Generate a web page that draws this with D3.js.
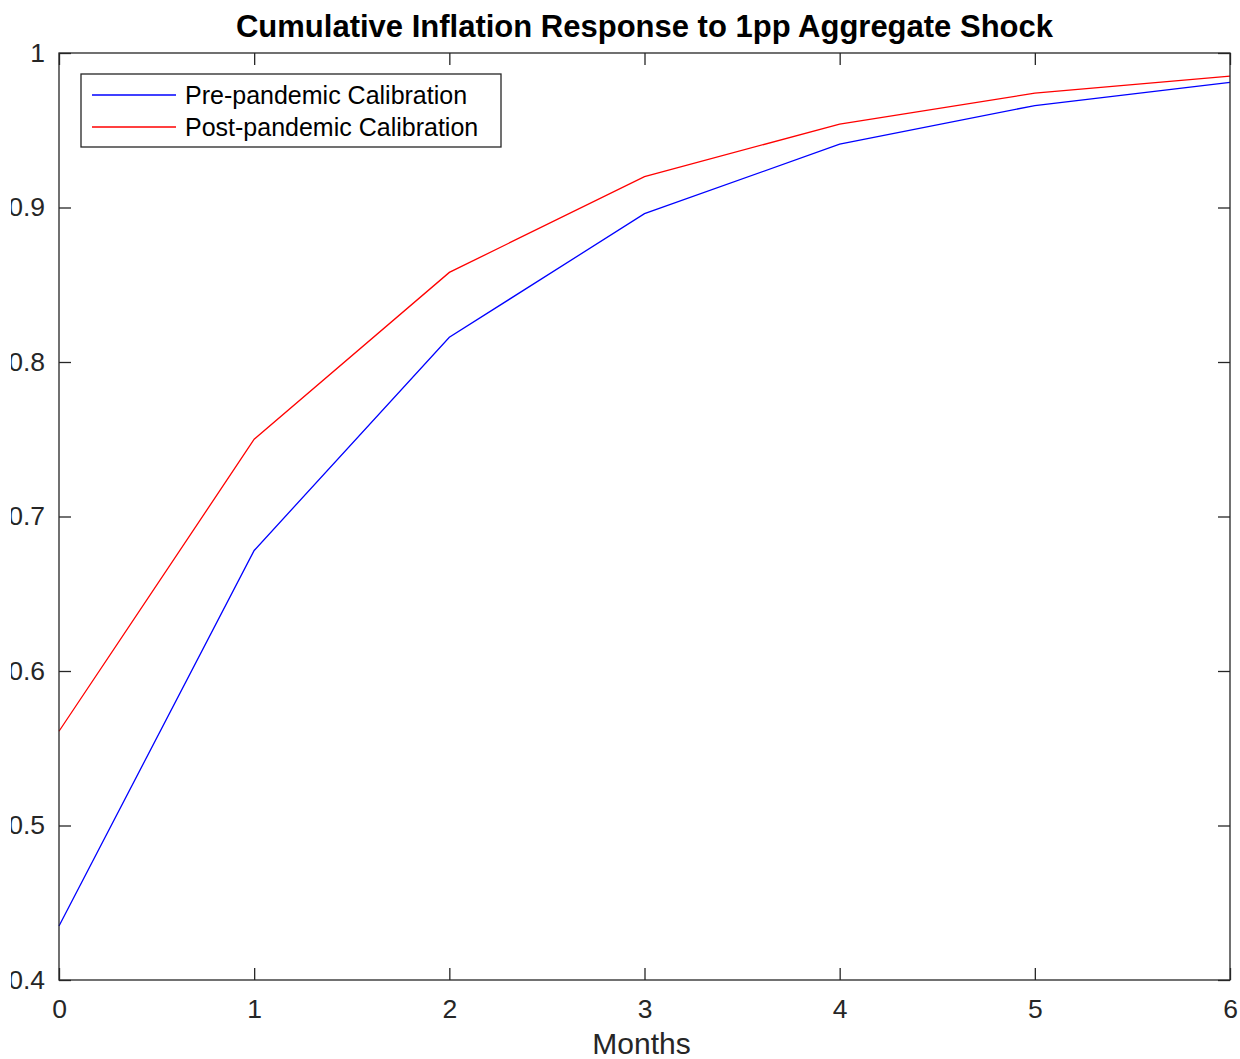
<!DOCTYPE html>
<html>
<head>
<meta charset="utf-8">
<script src="https://cdn.jsdelivr.net/npm/d3@7"></script>
<style>
  body { margin: 0; background: #fff; }
  text { font-family: "Liberation Sans", Arial, sans-serif; }
</style>
</head>
<body>
<div class="canvas"></div>
<script>
const months = [0, 1, 2, 3, 4, 5, 6]
const prePandemic = [0.435, 0.678, 0.816, 0.896, 0.941, 0.966, 0.981]
const postPandemic = [0.561, 0.750, 0.858, 0.920, 0.954, 0.974, 0.985]
const yTicks = [0.4, 0.5, 0.6, 0.7, 0.8, 0.9, 1]
const seriesNames = ['Pre-pandemic Calibration', 'Post-pandemic Calibration']
const seriesColours = ['#0000ff', '#ff0000']

const width = 1240, height = 1059
const margin = {top: 53, right: 10, bottom: 79, left: 59}
const graphWidth = width - margin.left - margin.right
const graphHeight = height - margin.top - margin.bottom
const axisColour = '#262626'

const svg = d3.select('.canvas')
  .append('svg')
  .attr('width', width)
  .attr('height', height)

// the original figure is cropped a little on the left
svg.append('clipPath').attr('id', 'page')
  .append('rect').attr('x', 11).attr('y', 0).attr('width', width).attr('height', height)

const root = svg.append('g').attr('clip-path', 'url(#page)')
const graph = root.append('g')
  .attr('transform', `translate(${margin.left}, ${margin.top})`)

const x = d3.scaleLinear().domain([0, 6]).range([0, graphWidth])
const y = d3.scaleLinear().domain([0.4, 1]).range([graphHeight, 0])

// lines first, box on top
const line = d3.line().x((d, i) => x(months[i])).y(d => y(d))
;[prePandemic, postPandemic].forEach((s, i) => {
  graph.append('path')
    .datum(s)
    .attr('fill', 'none')
    .attr('stroke', seriesColours[i])
    .attr('stroke-width', 1.3)
    .attr('d', line)
})

const tickLen = 12
const styleAxis = g => {
  g.select('.domain').remove()
  g.selectAll('line').attr('stroke', axisColour).attr('stroke-width', 1.3)
  g.selectAll('text').attr('fill', axisColour).style('font-size', '26.5px')
}

// bottom and left with labels, ticks pointing inwards
graph.append('g')
  .attr('transform', `translate(0, ${graphHeight})`)
  .call(d3.axisBottom(x).tickValues(months).tickSizeInner(-tickLen).tickSizeOuter(0).tickPadding(19).tickFormat(d3.format('d')))
  .call(styleAxis)

graph.append('g')
  .call(d3.axisLeft(y).tickValues(yTicks).tickSizeInner(-tickLen).tickSizeOuter(0).tickPadding(14).tickFormat(d => d === 1 ? '1' : d3.format('.1f')(d)))
  .call(styleAxis)

graph.append('g')
  .call(d3.axisTop(x).tickValues(months).tickSizeInner(-tickLen).tickSizeOuter(0).tickFormat(''))
  .call(styleAxis)

graph.append('g')
  .attr('transform', `translate(${graphWidth}, 0)`)
  .call(d3.axisRight(y).tickValues(yTicks).tickSizeInner(-tickLen).tickSizeOuter(0).tickFormat(''))
  .call(styleAxis)

graph.append('rect')
  .attr('width', graphWidth)
  .attr('height', graphHeight)
  .attr('fill', 'none')
  .attr('stroke', axisColour)
  .attr('stroke-width', 1.3)

// legend
const legend = graph.append('g').attr('transform', 'translate(22, 21)')
legend.append('rect')
  .attr('width', 420).attr('height', 73)
  .attr('fill', '#fff').attr('stroke', axisColour).attr('stroke-width', 1.3)
seriesNames.forEach((name, i) => {
  const row = legend.append('g').attr('transform', `translate(0, ${21 + i * 32})`)
  row.append('line')
    .attr('x1', 11).attr('x2', 95)
    .attr('stroke', seriesColours[i]).attr('stroke-width', 1.3)
  row.append('text')
    .attr('x', 104).attr('y', 9)
    .style('font-size', '25px')
    .attr('fill', '#000')
    .text(name)
})

// title and axis label
root.append('text')
  .attr('x', margin.left + graphWidth / 2).attr('y', 37)
  .attr('text-anchor', 'middle')
  .style('font-size', '31px').style('font-weight', 'bold')
  .attr('fill', '#000')
  .text('Cumulative Inflation Response to 1pp Aggregate Shock')

root.append('text')
  .attr('x', margin.left + graphWidth / 2 - 3).attr('y', 1054)
  .attr('text-anchor', 'middle')
  .style('font-size', '30px')
  .attr('fill', axisColour)
  .text('Months')
</script>
</body>
</html>
